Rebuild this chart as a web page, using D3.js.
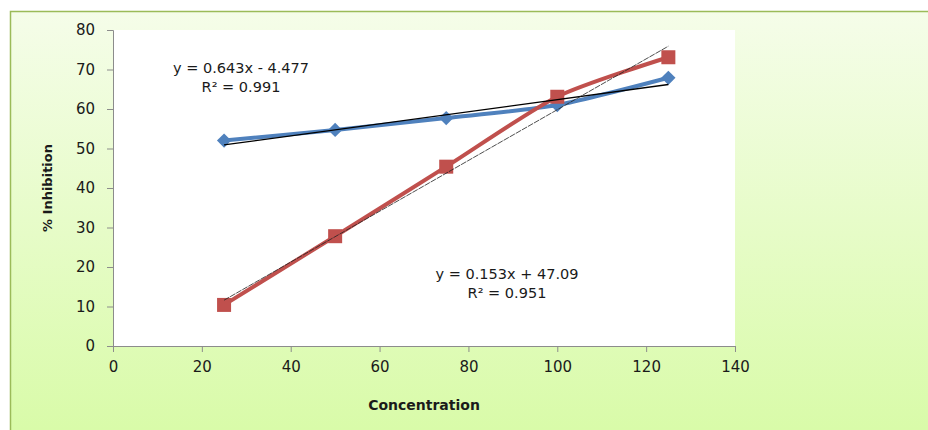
<!DOCTYPE html>
<html>
<head>
<meta charset="utf-8">
<script src="https://cdn.jsdelivr.net/npm/d3@7"></script>
<style>
  body { margin: 0; background: #fff; }
  svg text { font-family: "DejaVu Sans", sans-serif; fill: #1a1a1a; }
</style>
</head>
<body>
<div id="chart"></div>
<script>
// data
const concentration = [25, 50, 75, 100, 125];
const seriesBlue = [52, 54.7, 57.7, 61, 67.9];
const seriesRed = [10.4, 27.8, 45.4, 63.1, 73.1];
// trendline end values (at x = 25 and x = 125)
const trendX = [25, 125];
const trendBlue = [50.9, 66.2];
const trendRed = [11.6, 75.9];
const xTicks = [0, 20, 40, 60, 80, 100, 120, 140];
const yTicks = [0, 10, 20, 30, 40, 50, 60, 70, 80];
const labelRed = ['y = 0.643x - 4.477', 'R\u00b2 = 0.991'];
const labelBlue = ['y = 0.153x + 47.09', 'R\u00b2 = 0.951'];

const w = 928;
const h = 430;
const plot = { left: 113, right: 735, top: 30, bottom: 346 };

const svg = d3.select('#chart')
              .append('svg')
              .attr('width', w)
              .attr('height', h);

const defs = svg.append('defs');
const grad = defs.append('linearGradient')
                 .attr('id', 'bg')
                 .attr('x1', 0).attr('y1', 0)
                 .attr('x2', 0).attr('y2', 1);
grad.append('stop').attr('offset', '0%').attr('stop-color', '#f5fde9');
grad.append('stop').attr('offset', '100%').attr('stop-color', '#d8fba7');

// chart area frame
svg.append('rect')
   .attr('x', 10.5)
   .attr('y', 11.5)
   .attr('width', w)
   .attr('height', h)
   .attr('fill', 'url(#bg)')
   .attr('stroke', '#9bbb59')
   .attr('stroke-width', 1.5);

// white plot area
svg.append('rect')
   .attr('x', plot.left)
   .attr('y', plot.top)
   .attr('width', plot.right - plot.left)
   .attr('height', plot.bottom - plot.top)
   .attr('fill', '#fff');

const xScale = d3.scaleLinear()
                 .domain([0, 140])
                 .range([plot.left, plot.right]);

const yScale = d3.scaleLinear()
                 .domain([0, 80])
                 .range([plot.bottom, plot.top]);

const xAxis = d3.axisBottom(xScale).tickValues(xTicks).tickSize(6).tickPadding(9);
const yAxis = d3.axisLeft(yScale).tickValues(yTicks).tickSize(6).tickPadding(12);

const gx = svg.append('g')
              .attr('transform', `translate(0, ${plot.bottom})`)
              .call(xAxis);
const gy = svg.append('g')
              .attr('transform', `translate(${plot.left}, 0)`)
              .call(yAxis);

[gx, gy].forEach(g => {
    g.select('.domain').attr('stroke', '#8c8c8c');
    g.selectAll('.tick line').attr('stroke', '#8c8c8c');
    g.selectAll('.tick text')
     .attr('font-size', 15)
     .attr('font-family', '"DejaVu Sans", sans-serif')
     .attr('fill', '#1a1a1a');
});

// axis titles
svg.append('text')
   .attr('x', 424)
   .attr('y', 410)
   .attr('text-anchor', 'middle')
   .attr('font-size', 14)
   .attr('font-weight', 'bold')
   .text('Concentration');

svg.append('text')
   .attr('transform', 'translate(52, 188) rotate(-90)')
   .attr('text-anchor', 'middle')
   .attr('font-size', 13)
   .attr('font-weight', 'bold')
   .text('% Inhibition');

const line = d3.line()
               .x(d => xScale(d[0]))
               .y(d => yScale(d[1]))
               .curve(d3.curveCardinal.tension(0.3));

const straight = d3.line()
                   .x(d => xScale(d[0]))
                   .y(d => yScale(d[1]));

const blueData = concentration.map((c, i) => [c, seriesBlue[i]]);
const redData = concentration.map((c, i) => [c, seriesRed[i]]);

// series lines
svg.append('path')
   .attr('d', line(blueData))
   .attr('fill', 'none')
   .attr('stroke', '#4f81bd')
   .attr('stroke-width', 4);

svg.append('path')
   .attr('d', line(redData))
   .attr('fill', 'none')
   .attr('stroke', '#c0504d')
   .attr('stroke-width', 4);

// markers
svg.selectAll('.diamond')
   .data(blueData)
   .enter()
   .append('path')
   .attr('class', 'diamond')
   .attr('d', d3.symbol().type(d3.symbolDiamond2).size(130))
   .attr('transform', d => `translate(${xScale(d[0])}, ${yScale(d[1])})`)
   .attr('fill', '#4f81bd');

svg.selectAll('.square')
   .data(redData)
   .enter()
   .append('rect')
   .attr('class', 'square')
   .attr('x', d => xScale(d[0]) - 7)
   .attr('y', d => yScale(d[1]) - 7)
   .attr('width', 14)
   .attr('height', 14)
   .attr('fill', '#c0504d');

// trendlines
svg.append('path')
   .attr('d', straight(trendX.map((x, i) => [x, trendBlue[i]])))
   .attr('fill', 'none')
   .attr('stroke', '#000')
   .attr('stroke-width', 1.3);

svg.append('path')
   .attr('d', straight(trendX.map((x, i) => [x, trendRed[i]])))
   .attr('fill', 'none')
   .attr('stroke', '#222')
   .attr('stroke-width', 0.8)
   .attr('stroke-dasharray', '6,1');

// trendline labels
const addLabel = (lines, cx, y0) => {
    svg.append('g')
       .selectAll('text')
       .data(lines)
       .enter()
       .append('text')
       .attr('x', cx)
       .attr('y', (d, i) => y0 + i * 19)
       .attr('text-anchor', 'middle')
       .attr('font-size', 14.5)
       .attr('fill', '#222')
       .text(d => d);
};

addLabel(labelRed, 241, 73);
addLabel(labelBlue, 507, 279);
</script>
</body>
</html>
